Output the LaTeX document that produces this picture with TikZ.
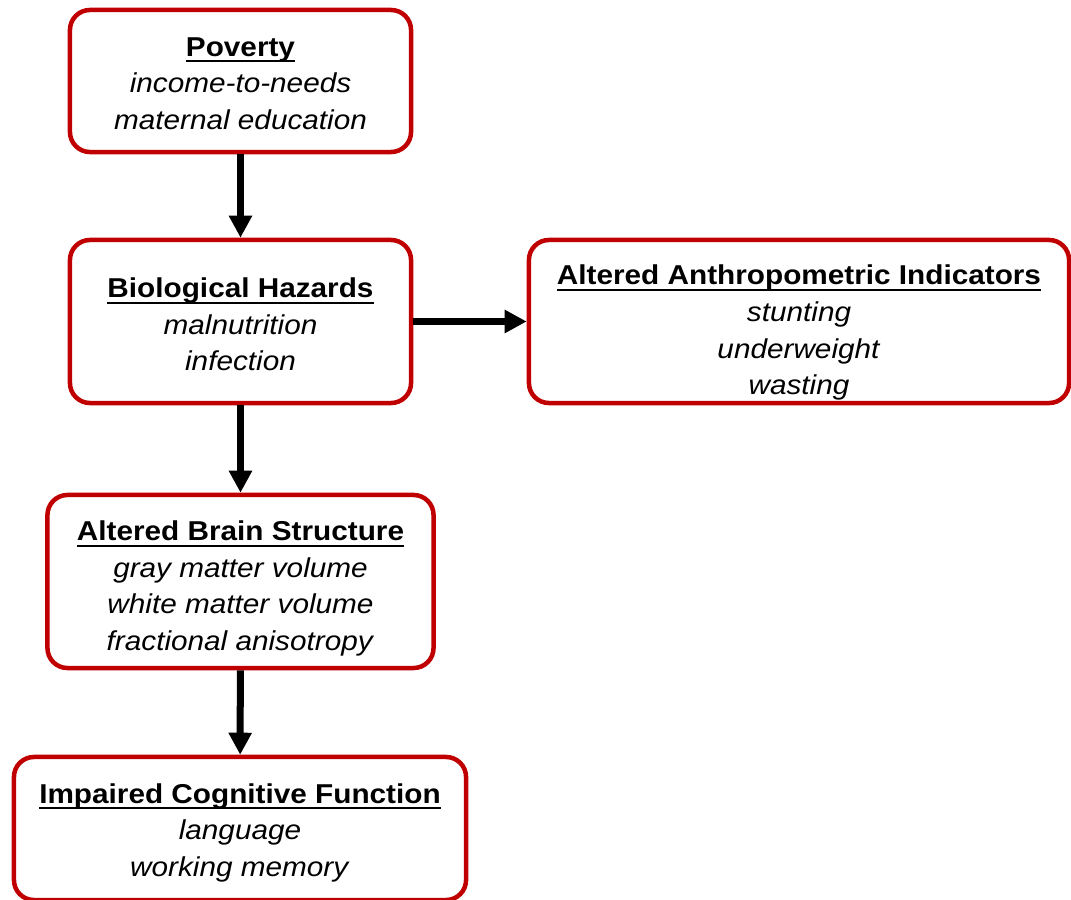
\documentclass[tikz,border=0pt]{standalone}
\usepackage{fontspec}
\setmainfont{Liberation Sans}[FakeStretch=1.09]
\usetikzlibrary{arrows.meta,positioning}
\definecolor{boxred}{HTML}{C00000}
\newcommand{\hdline}[2][0pt]{\rule{0pt}{#1}\setbox0\hbox{\textbf{#2}}\dp0=0pt
	\vtop{\copy0\kern3pt\hrule height 1.4pt}}

\begin{document}
\begin{tikzpicture}[x=0.025cm,y=-0.025cm,line width=0.1125cm,
	every node/.style={font=\fontsize{19.4}{26}\selectfont,align=center},
	box/.style={draw=boxred,rounded corners=0.5cm,inner sep=0pt},
	arr/.style={-{Triangle[length=0.55cm,width=0.55cm]},line width=0.175cm}]
	\useasboundingbox (0,0) rectangle (1071,900);
	\node[box,minimum width=8.525cm,minimum height=3.55cm] (pov) at (240.5,81)
		{\hdline[17pt]{Poverty}\\ \textit{income-to-needs}\\ \textit{maternal education}};
	\node[box,minimum width=8.525cm,minimum height=4.075cm] (bio) at (240.5,321.5)
		{\hdline[18.5pt]{Biological Hazards}\\ \textit{malnutrition}\\ \textit{infection}};
	\node[box,minimum width=13.5cm,minimum height=4.075cm] (anthro) at (799,321.5)
		{\hdline[30pt]{Altered Anthropometric Indicators}\\ \textit{stunting}\\ \textit{underweight}\\ \textit{wasting}};
	\node[box,minimum width=9.65cm,minimum height=4.325cm] (brain) at (240.5,581.5)
		{\hdline[24pt]{Altered Brain Structure}\\ \textit{gray matter volume}\\ \textit{white matter volume}\\ \textit{fractional anisotropy}};
	\node[box,minimum width=11.3cm,minimum height=3.575cm] (cog) at (240,828.5)
		{\hdline[20pt]{Impaired Cognitive Function}\\ \textit{language}\\ \textit{working memory}};
	\path[arr]
	(pov) edge (bio)
	(bio) edge (anthro)
	edge (brain)
	(brain) edge (cog);
\end{tikzpicture}
\end{document}
